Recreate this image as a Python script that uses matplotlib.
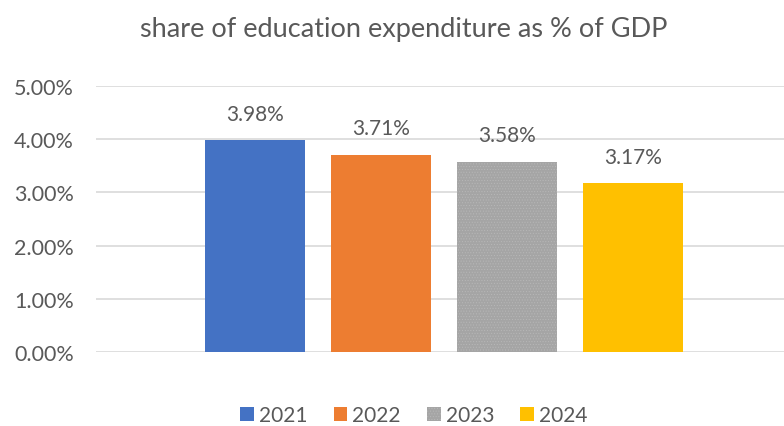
import matplotlib.pyplot as plt
import numpy as np

years = ['2021', '2022', '2023', '2024']
shares = [3.98, 3.71, 3.58, 3.17]  # percent of GDP
colors = ['#4472C4', '#ED7D31', '#A5A5A5', '#FFC000']
hatches = [None, None, '......', None]  # the 2023 bar has a fine dotted fill
yticks = [0, 1, 2, 3, 4, 5]

plt.rcParams['font.family'] = ['Lato', 'DejaVu Sans']
plt.rcParams['hatch.linewidth'] = 0.4
text_color = '#595959'

fig = plt.figure(figsize=(7.84, 4.27), dpi=100)
ax = fig.add_axes([96 / 784, 74 / 427, 696 / 784, 266 / 427])

step = 126 / 696
width = 100 / 696
x = (np.arange(len(years)) - 1.5) * step
for xi, val, col, h, yr in zip(x, shares, colors, hatches, years):
    ax.bar(xi, val / 100, width, color=col, label=yr, zorder=3,
           hatch=h, edgecolor='#B8B8B8' if h else col, linewidth=0)
    ax.annotate(f'{val:.2f}%', (xi, val / 100), xytext=(0, 12),
                textcoords='offset points', ha='center', va='bottom',
                fontsize=15, color=text_color)

ax.set_xlim(-0.5, 0.5)
ax.set_ylim(0, 0.05)
ax.set_yticks([t / 100 for t in yticks])
ax.set_yticklabels([f'{t:.2f}%' for t in yticks])
ax.tick_params(axis='y', length=0, pad=16, labelsize=15.5, labelcolor=text_color)
ax.set_xticks([])
ax.grid(axis='y', color='#D9D9D9', linewidth=1.2, zorder=0)
for s in ax.spines.values():
    s.set_visible(False)

fig.text(404 / 784, 0.93, 'share of education expenditure as % of GDP',
         ha='center', va='center', fontsize=19.5, color=text_color)

fig.legend(loc='center', bbox_to_anchor=(414 / 784, 0.026), ncol=4, frameon=False,
           fontsize=15, labelcolor=text_color, handlelength=0.65, handleheight=0.65,
           handletextpad=0.25, columnspacing=1.25)

fig.savefig('out.png', dpi=100)
